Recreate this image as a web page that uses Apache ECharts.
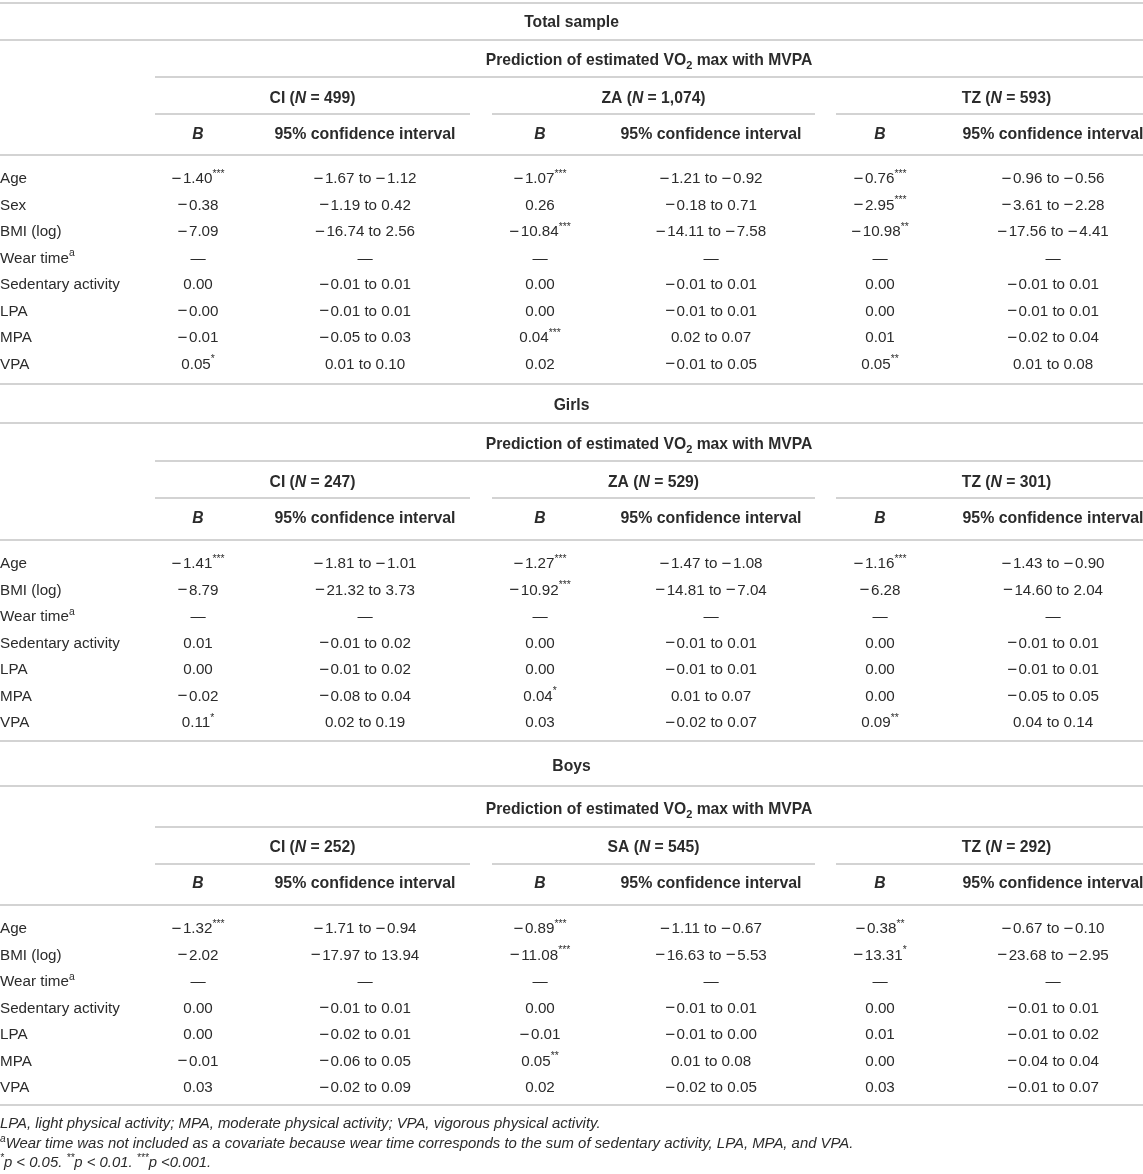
<!DOCTYPE html>
<html>
<head>
<meta charset="utf-8">
<title>Prediction of estimated VO2 max with MVPA</title>
<script src="https://cdn.jsdelivr.net/npm/echarts@6/dist/echarts.min.js"></script>
<style>
  html, body { margin: 0; padding: 0; background: #fff; }
  #table { width: 1143px; height: 1174px; }
</style>
</head>
<body>
<div id="table"></div>
<script>
// ---------- data ----------
const sectionTitles = ['Total sample', 'Girls', 'Boys'];
const predictionTitle = 'Prediction of estimated VO{sub|2} max with MVPA';
const groupNames = [['CI', 'ZA', 'TZ'], ['CI', 'ZA', 'TZ'], ['CI', 'SA', 'TZ']];
const groupN = [['499', '1,074', '593'], ['247', '529', '301'], ['252', '545', '292']];

const totalRows = ['Age', 'Sex', 'BMI (log)', 'Wear time{sup|a}', 'Sedentary activity', 'LPA', 'MPA', 'VPA'];
const totalB = [
  [-1.40, -1.07, -0.76],
  [-0.38, 0.26, -2.95],
  [-7.09, -10.84, -10.98],
  [null, null, null],
  [0.00, 0.00, 0.00],
  [-0.00, 0.00, 0.00],
  [-0.01, 0.04, 0.01],
  [0.05, 0.02, 0.05]
];
const totalSig = [
  ['***', '***', '***'],
  ['', '', '***'],
  ['', '***', '**'],
  ['', '', ''],
  ['', '', ''],
  ['', '', ''],
  ['', '***', ''],
  ['*', '', '**']
];
const totalLo = [
  [-1.67, -1.21, -0.96],
  [-1.19, -0.18, -3.61],
  [-16.74, -14.11, -17.56],
  [null, null, null],
  [-0.01, -0.01, -0.01],
  [-0.01, -0.01, -0.01],
  [-0.05, 0.02, -0.02],
  [0.01, -0.01, 0.01]
];
const totalHi = [
  [-1.12, -0.92, -0.56],
  [0.42, 0.71, -2.28],
  [2.56, -7.58, -4.41],
  [null, null, null],
  [0.01, 0.01, 0.01],
  [0.01, 0.01, 0.01],
  [0.03, 0.07, 0.04],
  [0.10, 0.05, 0.08]
];

const sexRows = ['Age', 'BMI (log)', 'Wear time{sup|a}', 'Sedentary activity', 'LPA', 'MPA', 'VPA'];
const girlsB = [
  [-1.41, -1.27, -1.16],
  [-8.79, -10.92, -6.28],
  [null, null, null],
  [0.01, 0.00, 0.00],
  [0.00, 0.00, 0.00],
  [-0.02, 0.04, 0.00],
  [0.11, 0.03, 0.09]
];
const girlsSig = [
  ['***', '***', '***'],
  ['', '***', ''],
  ['', '', ''],
  ['', '', ''],
  ['', '', ''],
  ['', '*', ''],
  ['*', '', '**']
];
const girlsLo = [
  [-1.81, -1.47, -1.43],
  [-21.32, -14.81, -14.60],
  [null, null, null],
  [-0.01, -0.01, -0.01],
  [-0.01, -0.01, -0.01],
  [-0.08, 0.01, -0.05],
  [0.02, -0.02, 0.04]
];
const girlsHi = [
  [-1.01, -1.08, -0.90],
  [3.73, -7.04, 2.04],
  [null, null, null],
  [0.02, 0.01, 0.01],
  [0.02, 0.01, 0.01],
  [0.04, 0.07, 0.05],
  [0.19, 0.07, 0.14]
];

const boysB = [
  [-1.32, -0.89, -0.38],
  [-2.02, -11.08, -13.31],
  [null, null, null],
  [0.00, 0.00, 0.00],
  [0.00, -0.01, 0.01],
  [-0.01, 0.05, 0.00],
  [0.03, 0.02, 0.03]
];
const boysSig = [
  ['***', '***', '**'],
  ['', '***', '*'],
  ['', '', ''],
  ['', '', ''],
  ['', '', ''],
  ['', '**', ''],
  ['', '', '']
];
const boysLo = [
  [-1.71, -1.11, -0.67],
  [-17.97, -16.63, -23.68],
  [null, null, null],
  [-0.01, -0.01, -0.01],
  [-0.02, -0.01, -0.01],
  [-0.06, 0.01, -0.04],
  [-0.02, -0.02, -0.01]
];
const boysHi = [
  [-0.94, -0.67, -0.10],
  [13.94, -5.53, -2.95],
  [null, null, null],
  [0.01, 0.01, 0.01],
  [0.01, 0.00, 0.02],
  [0.05, 0.08, 0.04],
  [0.09, 0.05, 0.07]
];

const footnotes = [
  'LPA, light physical activity; MPA, moderate physical activity; VPA, vigorous physical activity.',
  '{sup|a}Wear time was not included as a covariate because wear time corresponds to the sum of sedentary activity, LPA, MPA, and VPA.',
  '{sup|*}p < 0.05. {sup|**}p < 0.01. {sup|***}p <0.001.'
];

// ---------- layout ----------
const W = 1143, H = 1174;
const FONT = '"Liberation Sans", Arial, Helvetica, sans-serif';
const TEXT = '#2b2b2b';
const RULE = '#c4c4c4';
const ROW_STEP = 26.5;
const TEXT_DY = 2;
const xB = [198, 540, 880];
const xCI = [365, 711, 1053];
const groupSpan = [[155, 470], [492, 815], [836, 1177]];
const predSpan = [155, W];
const sectionY = [
  { title: 21, line1: 40, pred: 59, line2: 77, group: 97, gline: 114, head: 133, hline: 155, row0: 177, end: 384 },
  { title: 404, line1: 423, pred: 443, line2: 461, group: 481, gline: 498, head: 517, hline: 540, row0: 562, end: 741 },
  { title: 765, line1: 786, pred: 808, line2: 827, group: 846, gline: 864, head: 882, hline: 905, row0: 927, end: 1105 }
];
const footY = [1122, 1142, 1161];

const sections = [
  { rows: totalRows, b: totalB, sig: totalSig, lo: totalLo, hi: totalHi },
  { rows: sexRows, b: girlsB, sig: girlsSig, lo: girlsLo, hi: girlsHi },
  { rows: sexRows, b: boysB, sig: boysSig, lo: boysLo, hi: boysHi }
];

function fmt(v) {
  if (v === null) return '\u2014';
  const neg = v < 0 || Object.is(v, -0);
  return (neg ? '{m|\u2212}' : '') + Math.abs(v).toFixed(2);
}

// cells: text pieces placed through the axes
const cells = [];
const rules = [];
function cell(x, y, text, opt) {
  cells.push(Object.assign({ x: x, y: y + TEXT_DY, text: text, align: 'center', bold: false, italic: false, size: 15.2 }, opt || {}));
}

rules.push([0, 3, W]);
sections.forEach(function (sec, s) {
  const L = sectionY[s];
  cell(W / 2, L.title, sectionTitles[s], { bold: true, size: 15.7 });
  rules.push([0, L.line1, W]);
  cell((predSpan[0] + predSpan[1]) / 2, L.pred, predictionTitle, { bold: true, size: 15.7 });
  rules.push([predSpan[0], L.line2, predSpan[1]]);
  for (let g = 0; g < 3; g++) {
    const span = groupSpan[g];
    cell((span[0] + span[1]) / 2, L.group, groupNames[s][g] + ' ({it|N} = ' + groupN[s][g] + ')', { bold: true, size: 15.7 });
    rules.push([span[0], L.gline, Math.min(span[1], W)]);
    cell(xB[g], L.head, 'B', { bold: true, italic: true, size: 15.7 });
    cell(xCI[g], L.head, '95% confidence interval', { bold: true, size: 15.9 });
  }
  rules.push([0, L.hline, W]);
  sec.rows.forEach(function (label, r) {
    const y = L.row0 + r * ROW_STEP;
    cell(0, y, label, { align: 'left' });
    for (let g = 0; g < 3; g++) {
      const b = sec.b[r][g];
      const star = sec.sig[r][g];
      cell(xB[g], y, fmt(b) + (star ? '{sup|' + star + '}' : ''));
      const lo = sec.lo[r][g], hi = sec.hi[r][g];
      cell(xCI[g], y, lo === null ? '\u2014' : fmt(lo) + ' to ' + fmt(hi));
    }
  });
  rules.push([0, L.end, W]);
});
footnotes.forEach(function (t, i) {
  cell(0, footY[i], t, { align: 'left', italic: true, size: 14.9 });
});

function richFor(c) {
  const w = c.bold ? 'bold' : 'normal';
  const st = c.italic ? 'italic' : 'normal';
  return {
    sup: { fontFamily: FONT, fontSize: c.size * 0.68, fontWeight: w, fontStyle: st, lineHeight: 18, verticalAlign: 'top', fill: TEXT },
    sub: { fontFamily: FONT, fontSize: c.size * 0.7, fontWeight: w, fontStyle: st, lineHeight: 12, verticalAlign: 'bottom', fill: TEXT },
    it: { fontFamily: FONT, fontSize: c.size, fontWeight: w, fontStyle: 'italic', lineHeight: 20, fill: TEXT },
    m: { fontFamily: FONT, fontSize: c.size * 1.12, fontWeight: w, fontStyle: st, lineHeight: 20, padding: [0, 1.5, 0, 0], fill: TEXT }
  };
}

const chart = echarts.init(document.getElementById('table'), null, { renderer: 'canvas' });
chart.setOption({
  animation: false,
  backgroundColor: '#fff',
  grid: { left: 0, right: 0, top: 0, bottom: 0 },
  xAxis: { type: 'value', min: 0, max: W, show: false },
  yAxis: { type: 'value', min: 0, max: H, inverse: true, show: false },
  series: [
    {
      type: 'custom',
      silent: true,
      data: rules,
      encode: { x: [0, 2], y: 1 },
      renderItem: function (params, api) {
        const p1 = api.coord([api.value(0), api.value(1)]);
        const p2 = api.coord([api.value(2), api.value(1)]);
        return {
          type: 'line',
          shape: { x1: p1[0], y1: p1[1], x2: p2[0], y2: p2[1] },
          style: { stroke: RULE, lineWidth: 1.6 }
        };
      }
    },
    {
      type: 'custom',
      silent: true,
      data: cells.map(function (c, i) { return [c.x, c.y, i]; }),
      encode: { x: 0, y: 1 },
      renderItem: function (params, api) {
        const c = cells[api.value(2)];
        const p = api.coord([api.value(0), api.value(1)]);
        return {
          type: 'text',
          x: p[0],
          y: p[1],
          style: {
            text: c.text,
            fontFamily: FONT,
            fontSize: c.size,
            fontWeight: c.bold ? 'bold' : 'normal',
            fontStyle: c.italic ? 'italic' : 'normal',
            lineHeight: 20,
            fill: TEXT,
            align: c.align,
            verticalAlign: 'middle',
            rich: richFor(c)
          }
        };
      }
    }
  ]
});
</script>
</body>
</html>
